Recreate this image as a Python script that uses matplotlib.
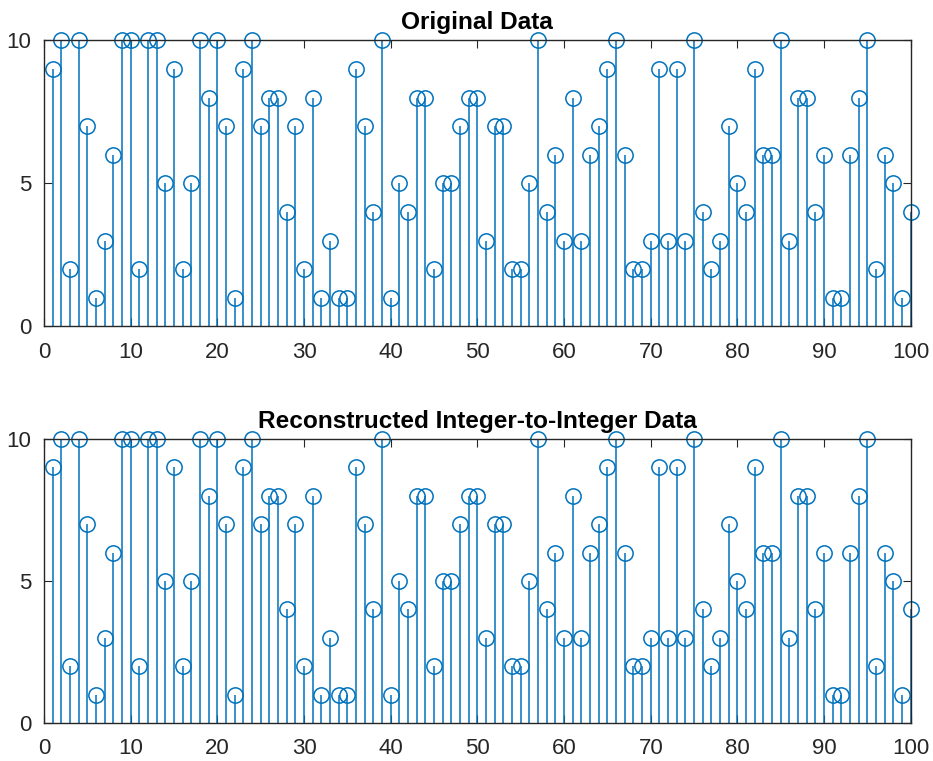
import numpy as np
import matplotlib
matplotlib.use("Agg")
import matplotlib.pyplot as plt

# valeurs (1..100)
x_idx = np.arange(1, 101)
original = [9, 10, 2, 10, 7, 1, 3, 6, 10, 10,
            2, 10, 10, 5, 9, 2, 5, 10, 8, 10,
            7, 1, 9, 10, 7, 8, 8, 4, 7, 2,
            8, 1, 3, 1, 1, 9, 7, 4, 10, 1,
            5, 4, 8, 8, 2, 5, 5, 7, 8, 8,
            3, 7, 7, 2, 2, 5, 10, 4, 6, 3,
            8, 3, 6, 7, 9, 10, 6, 2, 2, 3,
            9, 3, 9, 3, 10, 4, 2, 3, 7, 5,
            4, 9, 6, 6, 10, 3, 8, 8, 4, 6,
            1, 1, 6, 8, 10, 2, 6, 5, 1, 4]
reconstructed = list(original)  # reconstruction entière identique

titles = ["Original Data", "Reconstructed Integer-to-Integer Data"]
xticks = [0, 10, 20, 30, 40, 50, 60, 70, 80, 90, 100]
yticks = [0, 5, 10]

blue = "#0072BD"
dark = "#262626"
plt.rcParams['font.family'] = ['Liberation Sans', 'DejaVu Sans']

fig = plt.figure(figsize=(9.33, 7.61), dpi=100)
ax1 = fig.add_axes([0.0472, 0.5710, 0.9290, 0.3758])
ax2 = fig.add_axes([0.0472, 0.0500, 0.9290, 0.3732])

for ax, data, title in zip([ax1, ax2], [original, reconstructed], titles):
    markerline, stemlines, baseline = ax.stem(x_idx, data, linefmt='-', markerfmt='o', basefmt=' ')
    stemlines.set_color(blue)
    stemlines.set_linewidth(1.1)
    markerline.set_color(blue)
    markerline.set_markerfacecolor('none')
    markerline.set_markersize(11)
    markerline.set_markeredgewidth(1.1)
    markerline.set_clip_on(False)
    baseline.set_visible(False)

    ax.set_xlim(0, 100)
    ax.set_ylim(0, 10)
    ax.set_xticks(xticks)
    ax.set_yticks(yticks)
    ax.tick_params(direction='in', top=True, right=True, length=6, width=0.8,
                   labelsize=16, colors=dark, pad=9)
    ax.tick_params(axis='x', pad=11)
    for sp in ax.spines.values():
        sp.set_color(dark)
        sp.set_linewidth(1.0)
    ax.set_title(title, fontsize=17.6, fontweight='bold', color='black', pad=8)

plt.savefig("out.png", dpi=100)
